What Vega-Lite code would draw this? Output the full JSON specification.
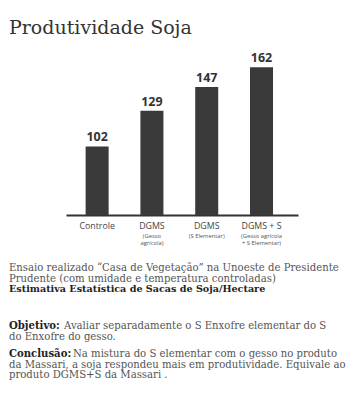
{
  "$schema": "https://vega.github.io/schema/vega-lite/v6.json",
  "background": "white",
  "padding": {"left": 9, "top": 19, "right": 5, "bottom": 5},
  "title": {"text": "Produtividade Soja", "anchor": "start", "font": "DejaVu Serif", "fontSize": 19, "fontWeight": "normal", "color": "#333333", "offset": 14},
  "config": {"view": {"stroke": null}},
  "spacing": 17,
  "vconcat": [
    {
      "width": 289,
      "height": 153,
      "data": {"values": [
        {"produto": "Controle", "sacas": 102},
        {"produto": "DGMS (Gesso agrícola)", "sacas": 129},
        {"produto": "DGMS (S Elementar)", "sacas": 147},
        {"produto": "DGMS + S (Gesso agrícola + S Elementar)", "sacas": 162}
      ]},
      "layer": [
        {
          "mark": {"type": "bar", "color": "#3a3a3a"},
          "encoding": {
            "x": {"field": "produto", "type": "nominal", "sort": null,
              "scale": {"range": [57, 289], "paddingInner": 0.58, "paddingOuter": 0.407, "align": 0.44},
              "axis": {"title": null, "labelAngle": 0, "ticks": false, "domainColor": "#333333", "domainWidth": 2, "labelFont": "Open Sans", "labelFontSize": 8.8, "labelColor": "#444444", "labelPadding": 6, "labelOverlap": false, "labelExpr": "split(datum.value, ' (')[0]"}},
            "y": {"field": "sacas", "type": "quantitative",
              "scale": {"domain": [50, 166], "zero": false, "nice": false},
              "axis": null},
            "y2": {"datum": 50}
          }
        },
        {
          "mark": {"type": "text", "baseline": "alphabetic", "dy": -5, "font": "Open Sans", "fontWeight": "bold", "fontSize": 12.5, "color": "#333333"},
          "encoding": {
            "x": {"field": "produto", "type": "nominal", "sort": null,
              "axis": {"orient": "bottom", "title": null, "labelAngle": 0, "ticks": false, "domain": false, "labelFont": "Open Sans", "labelFontSize": 5.8, "labelColor": "#555555", "labelPadding": 17.5, "labelLineHeight": 7, "labelOverlap": false,
                "labelExpr": "datum.value == 'DGMS (Gesso agrícola)' ? ['(Gesso', 'agrícola)'] : datum.value == 'DGMS (S Elementar)' ? ['(S Elementar)'] : datum.value == 'DGMS + S (Gesso agrícola + S Elementar)' ? ['(Gesso agrícola', '+ S Elementar)'] : ''"}},
            "y": {"field": "sacas", "type": "quantitative"},
            "text": {"field": "sacas"}
          }
        }
      ],
      "resolve": {"axis": {"x": "independent"}}
    },
    {
      "spacing": 26,
      "vconcat": [
        {
          "width": 350,
          "height": {"step": 10.4},
          "layer": [
            {
              "data": {"values": [
                {"linha": 1, "texto": "Ensaio realizado “Casa de Vegetação” na Unoeste de Presidente"},
                {"linha": 2, "texto": "Prudente (com umidade e temperatura controladas)"}
              ]},
              "mark": {"type": "text", "align": "left", "font": "DejaVu Serif", "fontSize": 10.1, "color": "#555555"},
              "encoding": {
                "x": {"value": 0},
                "y": {"field": "linha", "type": "ordinal", "axis": null, "scale": {"domain": [1, 2, 3]}},
                "text": {"field": "texto"}
              }
            },
            {
              "data": {"values": [
                {"linha": 3, "texto": "Estimativa Estatística de Sacas de Soja/Hectare"}
              ]},
              "mark": {"type": "text", "align": "left", "font": "DejaVu Serif", "fontSize": 9.6, "fontWeight": "bold", "color": "#222222"},
              "encoding": {
                "x": {"value": 0},
                "y": {"field": "linha", "type": "ordinal", "axis": null},
                "text": {"field": "texto"}
              }
            }
          ]
        },
        {
          "spacing": 6.9,
          "vconcat": [
            {
              "width": 350,
              "height": {"step": 10.4},
              "layer": [
                {
                  "data": {"values": [{"linha": 1, "texto": "Objetivo:"}]},
                  "mark": {"type": "text", "align": "left", "font": "DejaVu Serif", "fontSize": 10.1, "fontWeight": "bold", "color": "#222222"},
                  "encoding": {
                    "x": {"value": 0},
                    "y": {"field": "linha", "type": "ordinal", "axis": null, "scale": {"domain": [1, 2]}},
                    "text": {"field": "texto"}
                  }
                },
                {
                  "data": {"values": [{"linha": 1, "texto": "Avaliar separadamente o S Enxofre elementar do S"}]},
                  "mark": {"type": "text", "align": "left", "dx": 55, "font": "DejaVu Serif", "fontSize": 10.1, "color": "#555555"},
                  "encoding": {
                    "x": {"value": 0},
                    "y": {"field": "linha", "type": "ordinal", "axis": null},
                    "text": {"field": "texto"}
                  }
                },
                {
                  "data": {"values": [{"linha": 2, "texto": "do Enxofre do gesso."}]},
                  "mark": {"type": "text", "align": "left", "font": "DejaVu Serif", "fontSize": 10.1, "color": "#555555"},
                  "encoding": {
                    "x": {"value": 0},
                    "y": {"field": "linha", "type": "ordinal", "axis": null},
                    "text": {"field": "texto"}
                  }
                }
              ]
            },
            {
              "width": 350,
              "height": {"step": 10.4},
              "layer": [
                {
                  "data": {"values": [{"linha": 1, "texto": "Conclusão:"}]},
                  "mark": {"type": "text", "align": "left", "font": "DejaVu Serif", "fontSize": 10.1, "fontWeight": "bold", "color": "#222222"},
                  "encoding": {
                    "x": {"value": 0},
                    "y": {"field": "linha", "type": "ordinal", "axis": null, "scale": {"domain": [1, 2, 3]}},
                    "text": {"field": "texto"}
                  }
                },
                {
                  "data": {"values": [{"linha": 1, "texto": "Na mistura do S elementar com o gesso no produto"}]},
                  "mark": {"type": "text", "align": "left", "dx": 64, "font": "DejaVu Serif", "fontSize": 10.1, "color": "#555555"},
                  "encoding": {
                    "x": {"value": 0},
                    "y": {"field": "linha", "type": "ordinal", "axis": null},
                    "text": {"field": "texto"}
                  }
                },
                {
                  "data": {"values": [
                    {"linha": 2, "texto": "da Massari, a soja respondeu mais em produtividade. Equivale ao"},
                    {"linha": 3, "texto": "produto DGMS+S da Massari ."}
                  ]},
                  "mark": {"type": "text", "align": "left", "font": "DejaVu Serif", "fontSize": 10.1, "color": "#555555"},
                  "encoding": {
                    "x": {"value": 0},
                    "y": {"field": "linha", "type": "ordinal", "axis": null},
                    "text": {"field": "texto"}
                  }
                }
              ]
            }
          ]
        }
      ]
    }
  ]
}
